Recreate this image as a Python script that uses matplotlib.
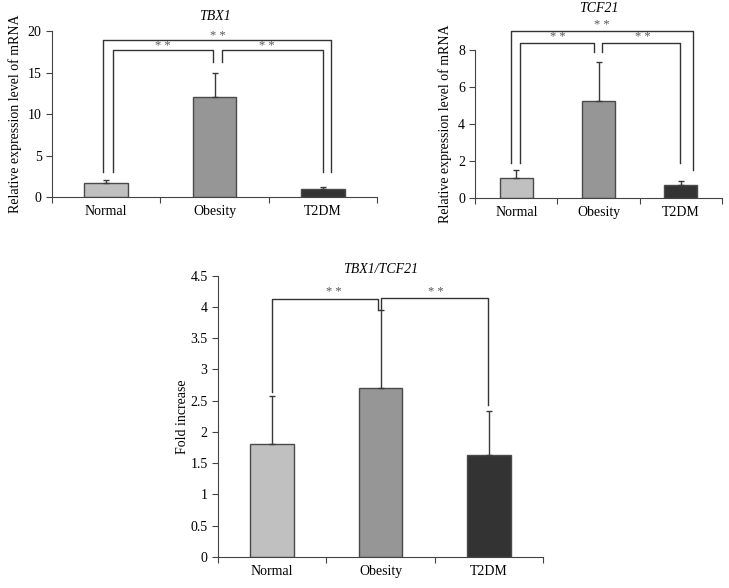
import matplotlib.pyplot as plt

plt.rcParams['font.family'] = ['Liberation Serif', 'DejaVu Serif']

groups = ['Normal', 'Obesity', 'T2DM']
colors = ['#c0c0c0', '#969696', '#333333']

tbx1_mean = [1.7, 12.0, 1.0]
tbx1_err = [0.4, 2.9, 0.2]
tcf21_mean = [1.1, 5.25, 0.7]
tcf21_err = [0.4, 2.1, 0.23]
ratio_mean = [1.8, 2.7, 1.63]
ratio_err = [0.77, 1.25, 0.7]

# brackets: (x_left, x_right, y_bar, y_left_end, y_right_end, star_x, star_y)
tbx1_brackets = [(-0.03, 2.07, 18.9, 3.0, 3.0, 1.03, 19.4),
                 (0.065, 0.99, 17.7, 3.0, 16.3, 0.52, 18.2),
                 (1.07, 2.0, 17.7, 16.3, 3.0, 1.48, 18.2)]
tcf21_brackets = [(-0.06, 2.15, 9.0, 1.9, 1.5, 1.04, 9.35),
                  (0.05, 0.95, 8.4, 1.9, 7.9, 0.5, 8.7),
                  (1.04, 1.99, 8.4, 7.9, 1.9, 1.54, 8.7)]
ratio_brackets = [(0.0, 0.98, 4.13, 2.64, 3.95, 0.57, 4.24),
                  (1.0, 1.99, 4.14, 3.95, 2.43, 1.51, 4.24)]


def draw(ax, mean, err, ylim, yticks, ytl, title, tpad, ylabel, lpad, brackets):
    x = range(len(groups))
    ax.bar(x, mean, width=0.4, color=colors, edgecolor='#4a4a4a', linewidth=1, zorder=2)
    ax.errorbar(x, mean, yerr=[[0] * 3, err], fmt='none', ecolor='#3a3a3a',
                elinewidth=1, capsize=2.5, capthick=1, zorder=3)
    ax.set_xlim(-0.5, 2.5)
    ax.set_ylim(*ylim)
    ax.set_yticks(yticks)
    ax.set_yticklabels(ytl)
    ax.set_xticks([-0.5, 0.5, 1.5, 2.5])
    ax.set_xticklabels([])
    ax.set_xticks(list(x), minor=True)
    ax.set_xticklabels(groups, minor=True)
    ax.tick_params(axis='x', which='minor', length=0, labelsize=10, pad=6)
    ax.tick_params(axis='x', which='major', length=4, direction='out', color='#444444')
    ax.tick_params(axis='y', length=4, direction='out', labelsize=10, color='#444444')
    for s in ['top', 'right']:
        ax.spines[s].set_visible(False)
    ax.spines['left'].set_color('#444444')
    ax.spines['bottom'].set_color('#444444')
    ax.set_title(title, fontstyle='italic', fontsize=10, pad=tpad)
    ax.set_ylabel(ylabel, fontsize=10, labelpad=lpad)
    for xl, xr, yb, yl, yr, sx, sy in brackets:
        ax.plot([xl, xl, xr, xr], [yl, yb, yb, yr], color='#333333', lw=1,
                clip_on=False, zorder=4)
        ax.text(sx, sy, '* *', ha='center', va='center', fontsize=9, color='#555555')


fig = plt.figure(figsize=(7.29, 5.88), dpi=100)
ax1 = fig.add_axes([0.0713, 0.665, 0.446, 0.282])
ax2 = fig.add_axes([0.652, 0.663, 0.338, 0.252])
ax3 = fig.add_axes([0.299, 0.053, 0.446, 0.478])

draw(ax1, tbx1_mean, tbx1_err, (0, 20), [0, 5, 10, 15, 20],
     ['0', '5', '10', '15', '20'], 'TBX1', 8,
     'Relative expression level of mRNA', 4, tbx1_brackets)
draw(ax2, tcf21_mean, tcf21_err, (0, 8), [0, 2, 4, 6, 8],
     ['0', '2', '4', '6', '8'], 'TCF21', 27,
     'Relative expression level of mRNA', 4, tcf21_brackets)
draw(ax3, ratio_mean, ratio_err, (0, 4.5), [0, 0.5, 1, 1.5, 2, 2.5, 3, 3.5, 4, 4.5],
     ['0', '0.5', '1', '1.5', '2', '2.5', '3', '3.5', '4', '4.5'], 'TBX1/TCF21', 2,
     'Fold increase', 1, ratio_brackets)

fig.savefig('out.png', dpi=100)
